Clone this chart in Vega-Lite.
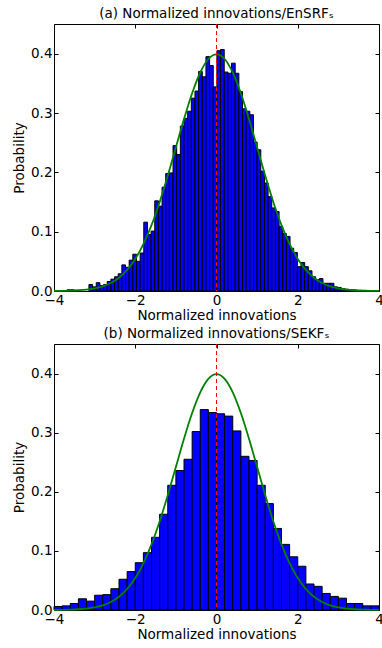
{
  "$schema": "https://vega.github.io/schema/vega-lite/v6.json",
  "padding": {"left": 12, "top": 6, "right": 0, "bottom": 4},
  "spacing": 3,
  "config": {
    "font": "DejaVu Sans",
    "view": {"stroke": "black", "strokeWidth": 1},
    "axis": {
      "labelFont": "DejaVu Sans", "titleFont": "DejaVu Sans",
      "labelFontSize": 13.5, "titleFontSize": 13.5,
      "labelColor": "black", "titleColor": "black", "titleFontWeight": "normal",
      "domain": false, "grid": false, "labelFlush": false, "labelOverlap": false,
      "tickColor": "black", "tickSize": -4, "tickWidth": 1,
      "labelPadding": 6
    },
    "title": {"font": "DejaVu Sans", "fontSize": 13.5, "fontWeight": "normal", "color": "black", "offset": 3, "frame": "group"}
  },
  "datasets": {
    "histA": [
      {"lo": -3.68, "hi": -3.59, "p": 0.002},
      {"lo": -3.59, "hi": -3.50, "p": 0.002},
      {"lo": -3.14, "hi": -3.05, "p": 0.011},
      {"lo": -3.05, "hi": -2.96, "p": 0.007},
      {"lo": -2.96, "hi": -2.87, "p": 0.014},
      {"lo": -2.87, "hi": -2.78, "p": 0.009},
      {"lo": -2.78, "hi": -2.69, "p": 0.011},
      {"lo": -2.69, "hi": -2.60, "p": 0.016},
      {"lo": -2.60, "hi": -2.51, "p": 0.020},
      {"lo": -2.51, "hi": -2.42, "p": 0.024},
      {"lo": -2.42, "hi": -2.33, "p": 0.029},
      {"lo": -2.33, "hi": -2.24, "p": 0.044},
      {"lo": -2.24, "hi": -2.15, "p": 0.040},
      {"lo": -2.15, "hi": -2.06, "p": 0.052},
      {"lo": -2.06, "hi": -1.97, "p": 0.062},
      {"lo": -1.97, "hi": -1.88, "p": 0.050},
      {"lo": -1.88, "hi": -1.79, "p": 0.064},
      {"lo": -1.79, "hi": -1.70, "p": 0.116},
      {"lo": -1.70, "hi": -1.61, "p": 0.095},
      {"lo": -1.61, "hi": -1.52, "p": 0.101},
      {"lo": -1.52, "hi": -1.43, "p": 0.152},
      {"lo": -1.43, "hi": -1.34, "p": 0.143},
      {"lo": -1.34, "hi": -1.25, "p": 0.175},
      {"lo": -1.25, "hi": -1.16, "p": 0.198},
      {"lo": -1.16, "hi": -1.07, "p": 0.199},
      {"lo": -1.07, "hi": -0.98, "p": 0.245},
      {"lo": -0.98, "hi": -0.89, "p": 0.230},
      {"lo": -0.89, "hi": -0.80, "p": 0.278},
      {"lo": -0.80, "hi": -0.71, "p": 0.291},
      {"lo": -0.71, "hi": -0.62, "p": 0.303},
      {"lo": -0.62, "hi": -0.53, "p": 0.325},
      {"lo": -0.53, "hi": -0.44, "p": 0.337},
      {"lo": -0.44, "hi": -0.35, "p": 0.370},
      {"lo": -0.35, "hi": -0.26, "p": 0.361},
      {"lo": -0.26, "hi": -0.17, "p": 0.395},
      {"lo": -0.17, "hi": -0.08, "p": 0.380},
      {"lo": -0.08, "hi": 0.01, "p": 0.344},
      {"lo": 0.01, "hi": 0.10, "p": 0.405},
      {"lo": 0.10, "hi": 0.19, "p": 0.407},
      {"lo": 0.19, "hi": 0.28, "p": 0.369},
      {"lo": 0.28, "hi": 0.37, "p": 0.367},
      {"lo": 0.37, "hi": 0.46, "p": 0.384},
      {"lo": 0.46, "hi": 0.55, "p": 0.367},
      {"lo": 0.55, "hi": 0.64, "p": 0.336},
      {"lo": 0.64, "hi": 0.73, "p": 0.307},
      {"lo": 0.73, "hi": 0.82, "p": 0.303},
      {"lo": 0.82, "hi": 0.91, "p": 0.297},
      {"lo": 0.91, "hi": 1.00, "p": 0.251},
      {"lo": 1.00, "hi": 1.09, "p": 0.238},
      {"lo": 1.09, "hi": 1.18, "p": 0.202},
      {"lo": 1.18, "hi": 1.27, "p": 0.182},
      {"lo": 1.27, "hi": 1.36, "p": 0.159},
      {"lo": 1.36, "hi": 1.45, "p": 0.140},
      {"lo": 1.45, "hi": 1.54, "p": 0.134},
      {"lo": 1.54, "hi": 1.63, "p": 0.109},
      {"lo": 1.63, "hi": 1.72, "p": 0.097},
      {"lo": 1.72, "hi": 1.81, "p": 0.092},
      {"lo": 1.81, "hi": 1.90, "p": 0.072},
      {"lo": 1.90, "hi": 1.99, "p": 0.065},
      {"lo": 1.99, "hi": 2.08, "p": 0.041},
      {"lo": 2.08, "hi": 2.17, "p": 0.048},
      {"lo": 2.17, "hi": 2.26, "p": 0.041},
      {"lo": 2.26, "hi": 2.35, "p": 0.034},
      {"lo": 2.35, "hi": 2.44, "p": 0.024},
      {"lo": 2.44, "hi": 2.53, "p": 0.019},
      {"lo": 2.53, "hi": 2.62, "p": 0.021},
      {"lo": 2.62, "hi": 2.71, "p": 0.013},
      {"lo": 2.71, "hi": 2.80, "p": 0.013},
      {"lo": 2.80, "hi": 2.89, "p": 0.013},
      {"lo": 2.89, "hi": 2.98, "p": 0.007},
      {"lo": 2.98, "hi": 3.07, "p": 0.006},
      {"lo": 3.07, "hi": 3.16, "p": 0.004},
      {"lo": 3.16, "hi": 3.25, "p": 0.003},
      {"lo": 3.25, "hi": 3.34, "p": 0.002},
      {"lo": 3.34, "hi": 3.43, "p": 0.002},
      {"lo": 3.43, "hi": 3.52, "p": 0.001},
      {"lo": 3.52, "hi": 3.61, "p": 0.001},
      {"lo": 3.61, "hi": 3.70, "p": 0.001}
    ],
    "histB": [
      {"lo": -4.0, "hi": -3.8, "p": 0.006},
      {"lo": -3.8, "hi": -3.6, "p": 0.007},
      {"lo": -3.6, "hi": -3.4, "p": 0.011},
      {"lo": -3.4, "hi": -3.2, "p": 0.019},
      {"lo": -3.2, "hi": -3.0, "p": 0.015},
      {"lo": -3.0, "hi": -2.8, "p": 0.025},
      {"lo": -2.8, "hi": -2.6, "p": 0.026},
      {"lo": -2.6, "hi": -2.4, "p": 0.036},
      {"lo": -2.4, "hi": -2.2, "p": 0.052},
      {"lo": -2.2, "hi": -2.0, "p": 0.065},
      {"lo": -2.0, "hi": -1.8, "p": 0.080},
      {"lo": -1.8, "hi": -1.6, "p": 0.097},
      {"lo": -1.6, "hi": -1.4, "p": 0.123},
      {"lo": -1.4, "hi": -1.2, "p": 0.162},
      {"lo": -1.2, "hi": -1.0, "p": 0.211},
      {"lo": -1.0, "hi": -0.8, "p": 0.236},
      {"lo": -0.8, "hi": -0.6, "p": 0.255},
      {"lo": -0.6, "hi": -0.4, "p": 0.302},
      {"lo": -0.4, "hi": -0.2, "p": 0.339},
      {"lo": -0.2, "hi": 0.0, "p": 0.334},
      {"lo": 0.0, "hi": 0.2, "p": 0.332},
      {"lo": 0.2, "hi": 0.4, "p": 0.328},
      {"lo": 0.4, "hi": 0.6, "p": 0.303},
      {"lo": 0.6, "hi": 0.8, "p": 0.260},
      {"lo": 0.8, "hi": 1.0, "p": 0.253},
      {"lo": 1.0, "hi": 1.2, "p": 0.211},
      {"lo": 1.2, "hi": 1.4, "p": 0.180},
      {"lo": 1.4, "hi": 1.6, "p": 0.138},
      {"lo": 1.6, "hi": 1.8, "p": 0.111},
      {"lo": 1.8, "hi": 2.0, "p": 0.090},
      {"lo": 2.0, "hi": 2.2, "p": 0.074},
      {"lo": 2.2, "hi": 2.4, "p": 0.044},
      {"lo": 2.4, "hi": 2.6, "p": 0.040},
      {"lo": 2.6, "hi": 2.8, "p": 0.028},
      {"lo": 2.8, "hi": 3.0, "p": 0.023},
      {"lo": 3.0, "hi": 3.2, "p": 0.020},
      {"lo": 3.2, "hi": 3.4, "p": 0.011},
      {"lo": 3.4, "hi": 3.6, "p": 0.011},
      {"lo": 3.6, "hi": 3.8, "p": 0.007},
      {"lo": 3.8, "hi": 4.0, "p": 0.007}
    ],
    "normal": [
      {"x": -4.0, "p": 0.00013}, {"x": -3.8, "p": 0.00029}, {"x": -3.6, "p": 0.00061},
      {"x": -3.4, "p": 0.00123}, {"x": -3.2, "p": 0.00238}, {"x": -3.0, "p": 0.00443},
      {"x": -2.8, "p": 0.00792}, {"x": -2.6, "p": 0.01358}, {"x": -2.4, "p": 0.02239},
      {"x": -2.2, "p": 0.03547}, {"x": -2.0, "p": 0.05399}, {"x": -1.8, "p": 0.07895},
      {"x": -1.6, "p": 0.11092}, {"x": -1.4, "p": 0.14973}, {"x": -1.2, "p": 0.19419},
      {"x": -1.0, "p": 0.24197}, {"x": -0.8, "p": 0.28969}, {"x": -0.6, "p": 0.33322},
      {"x": -0.4, "p": 0.36827}, {"x": -0.2, "p": 0.39104}, {"x": 0.0, "p": 0.39894},
      {"x": 0.2, "p": 0.39104}, {"x": 0.4, "p": 0.36827}, {"x": 0.6, "p": 0.33322},
      {"x": 0.8, "p": 0.28969}, {"x": 1.0, "p": 0.24197}, {"x": 1.2, "p": 0.19419},
      {"x": 1.4, "p": 0.14973}, {"x": 1.6, "p": 0.11092}, {"x": 1.8, "p": 0.07895},
      {"x": 2.0, "p": 0.05399}, {"x": 2.2, "p": 0.03547}, {"x": 2.4, "p": 0.02239},
      {"x": 2.6, "p": 0.01358}, {"x": 2.8, "p": 0.00792}, {"x": 3.0, "p": 0.00443},
      {"x": 3.2, "p": 0.00238}, {"x": 3.4, "p": 0.00123}, {"x": 3.6, "p": 0.00061},
      {"x": 3.8, "p": 0.00029}, {"x": 4.0, "p": 0.00013}
    ]
  },
  "vconcat": [
    {
      "title": "(a) Normalized innovations/EnSRFₛ",
      "width": 325,
      "height": 267,
      "layer": [
        {
          "data": {"name": "histA"},
          "mark": {"type": "bar", "fill": "#0000ff", "stroke": "black", "strokeWidth": 1},
          "encoding": {
            "x": {"field": "lo", "type": "quantitative", "scale": {"domain": [-4, 4], "nice": false, "zero": false, "padding": 0},
                  "axis": {"values": [-4, -2, 0, 2, 4], "format": "d", "title": "Normalized innovations", "titlePadding": 2}},
            "x2": {"field": "hi"},
            "y": {"field": "p", "type": "quantitative", "scale": {"domain": [0, 0.45], "nice": false, "padding": 0},
                  "axis": {"values": [0, 0.1, 0.2, 0.3, 0.4], "format": ".1f", "title": "Probability", "titlePadding": 4}},
            "y2": {"datum": 0}
          }
        },
        {
          "data": {"name": "normal"},
          "mark": {"type": "line", "stroke": "#008000", "strokeWidth": 1.8, "interpolate": "monotone"},
          "encoding": {
            "x": {"field": "x", "type": "quantitative", "axis": null},
            "y": {"field": "p", "type": "quantitative", "axis": {"orient": "right", "values": [0, 0.1, 0.2, 0.3, 0.4], "labels": false, "title": null}}
          }
        },
        {
          "data": {"values": [{}]},
          "mark": {"type": "rule", "color": "#ff0000", "strokeDash": [4, 3], "strokeWidth": 1},
          "encoding": {
            "x": {"datum": 0, "type": "quantitative", "axis": {"orient": "top", "values": [-4, -2, 0, 2, 4], "labels": false, "title": null}},
            "color": {"value": "#ff0000"}
          }
        }
      ],
      "resolve": {"axis": {"x": "independent", "y": "independent"}}
    },
    {
      "title": "(b) Normalized innovations/SEKFₛ",
      "width": 325,
      "height": 266,
      "layer": [
        {
          "data": {"name": "histB"},
          "mark": {"type": "bar", "fill": "#0000ff", "stroke": "black", "strokeWidth": 1},
          "encoding": {
            "x": {"field": "lo", "type": "quantitative", "scale": {"domain": [-4, 4], "nice": false, "zero": false, "padding": 0},
                  "axis": {"values": [-4, -2, 0, 2, 4], "format": "d", "title": "Normalized innovations", "titlePadding": 2}},
            "x2": {"field": "hi"},
            "y": {"field": "p", "type": "quantitative", "scale": {"domain": [0, 0.45], "nice": false, "padding": 0},
                  "axis": {"values": [0, 0.1, 0.2, 0.3, 0.4], "format": ".1f", "title": "Probability", "titlePadding": 4}},
            "y2": {"datum": 0}
          }
        },
        {
          "data": {"name": "normal"},
          "mark": {"type": "line", "stroke": "#008000", "strokeWidth": 1.8, "interpolate": "monotone"},
          "encoding": {
            "x": {"field": "x", "type": "quantitative", "axis": null},
            "y": {"field": "p", "type": "quantitative", "axis": {"orient": "right", "values": [0, 0.1, 0.2, 0.3, 0.4], "labels": false, "title": null}}
          }
        },
        {
          "data": {"values": [{}]},
          "mark": {"type": "rule", "color": "#ff0000", "strokeDash": [4, 3], "strokeWidth": 1},
          "encoding": {
            "x": {"datum": 0, "type": "quantitative", "axis": {"orient": "top", "values": [-4, -2, 0, 2, 4], "labels": false, "title": null}},
            "color": {"value": "#ff0000"}
          }
        }
      ],
      "resolve": {"axis": {"x": "independent", "y": "independent"}}
    }
  ]
}
